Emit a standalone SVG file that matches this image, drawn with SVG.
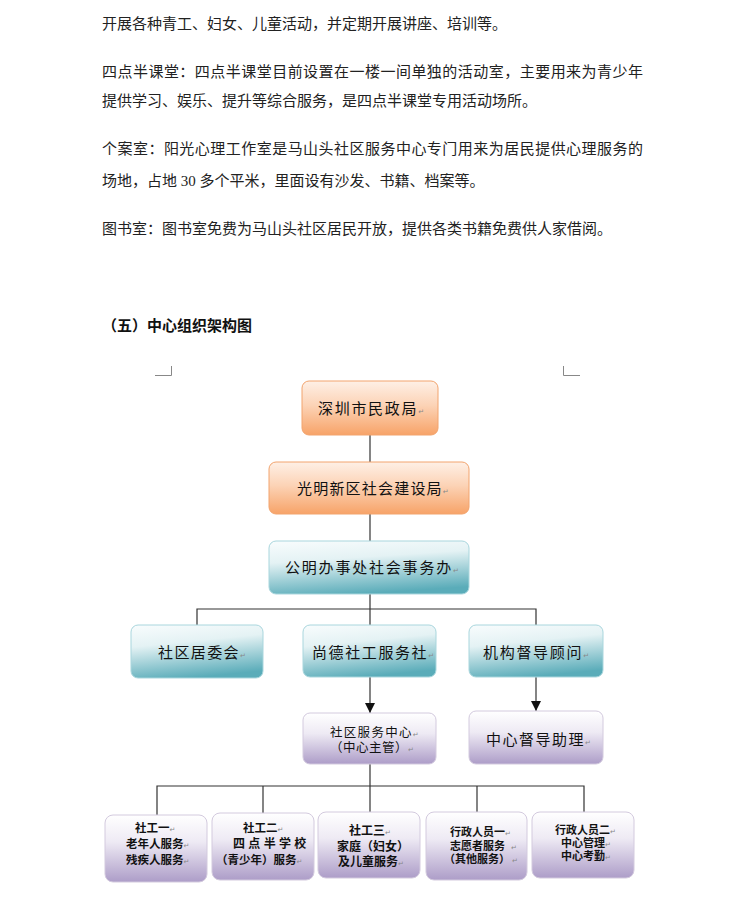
<svg xmlns="http://www.w3.org/2000/svg" width="744" height="900" viewBox="0 0 744 900">
<style>
.body{font-family:"Liberation Serif","Noto Sans CJK SC",serif;font-size:15px;fill:#222}
.head{font-family:"Liberation Sans","Noto Sans CJK SC",sans-serif;font-size:15px;font-weight:700;fill:#111}
.bx{font-family:"Liberation Serif","Noto Sans CJK SC",serif;font-size:15px;fill:#111}
.sm{font-family:"Liberation Serif","Noto Sans CJK SC",serif;font-size:12.5px;fill:#111}
.bt{font-family:"Liberation Sans","Noto Sans CJK SC",sans-serif;font-weight:700;fill:#111}
.rm{font-family:"DejaVu Sans",sans-serif;font-size:7px;fill:#888;font-weight:400;letter-spacing:0}
.or{fill:url(#gOr);stroke:#f2a46e;stroke-width:1}
.te{fill:url(#gTe);stroke:#a9d6dd;stroke-width:1}
.pu{fill:url(#gPu);stroke:#d3cade;stroke-width:1}
.ln{stroke:#333;stroke-width:1.2;fill:none}
.mk{stroke:#888;stroke-width:1;fill:none}
</style>
<defs>
<linearGradient id="gOr" x1="0" y1="0" x2="0" y2="1">
<stop offset="0" stop-color="#fef0e6"/>
<stop offset="0.45" stop-color="#fcd3b6"/>
<stop offset="1" stop-color="#f7a368"/>
</linearGradient>
<linearGradient id="gTe" x1="0.2" y1="0" x2="0.45" y2="1">
<stop offset="0" stop-color="#f6fbfc"/>
<stop offset="0.35" stop-color="#e4f2f4"/>
<stop offset="1" stop-color="#5aacb9"/>
</linearGradient>
<linearGradient id="gPu" x1="0" y1="0" x2="0" y2="1">
<stop offset="0" stop-color="#ffffff"/>
<stop offset="0.4" stop-color="#eeeaf4"/>
<stop offset="1" stop-color="#ad9dc8"/>
</linearGradient>
<marker id="arr" viewBox="0 0 10 10" refX="10" refY="5" markerWidth="10" markerHeight="10" markerUnits="userSpaceOnUse" orient="auto">
<path d="M0,0 L10,5 L0,10 z" fill="#111"/>
</marker>
</defs>

<g id="body-text">
<text class="body" x="102" y="28.5">开展各种青工、妇女、儿童活动，并定期开展讲座、培训等。</text>
<text class="body" x="102" y="76.5" textLength="541" lengthAdjust="spacing">四点半课堂：四点半课堂目前设置在一楼一间单独的活动室，主要用来为青少年</text>
<text class="body" x="102" y="105.5">提供学习、娱乐、提升等综合服务，是四点半课堂专用活动场所。</text>
<text class="body" x="102" y="153.5" textLength="541" lengthAdjust="spacing">个案室：阳光心理工作室是马山头社区服务中心专门用来为居民提供心理服务的</text>
<text class="body" x="102" y="185.5">场地，占地 30 多个平米，里面设有沙发、书籍、档案等。</text>
<text class="body" x="102" y="233.5">图书室：图书室免费为马山头社区居民开放，提供各类书籍免费供人家借阅。</text>
<text class="head" x="102" y="330.5">（五）中心组织架构图</text>
</g>

<g id="corner-marks">
<path class="mk" d="M155,375.5 H171.5 V366"/>
<path class="mk" d="M563.5,366 V375.5 H580"/>
</g>

<g id="connectors">
<line class="ln" x1="370" y1="435" x2="370" y2="462"/>
<line class="ln" x1="370" y1="514" x2="370" y2="541"/>
<line class="ln" x1="370" y1="594" x2="370" y2="625"/>
<path class="ln" d="M197,625 V609 H536 V625"/>
<line class="ln" x1="370" y1="677" x2="370" y2="713" marker-end="url(#arr)"/>
<line class="ln" x1="536" y1="677" x2="536" y2="711" marker-end="url(#arr)"/>
<line class="ln" x1="370" y1="764" x2="370" y2="812"/>
<path class="ln" d="M157,815 V786 H584 V812"/>
<line class="ln" x1="263" y1="786" x2="263" y2="813"/>
<line class="ln" x1="477" y1="786" x2="477" y2="812"/>
</g>

<g id="n-shenzhen">
<rect class="or" x="302" y="381" width="136" height="54" rx="7"/>
<text class="bx" x="318" y="413.5" style="letter-spacing:1.7px">深圳市民政局<tspan class="rm">↵</tspan></text>
</g>
<g id="n-guangming">
<rect class="or" x="269" y="462" width="200" height="52" rx="7"/>
<text class="bx" x="297" y="493.5" style="letter-spacing:1.2px">光明新区社会建设局<tspan class="rm">↵</tspan></text>
</g>
<g id="n-gongming">
<rect class="te" x="269" y="541" width="200" height="53" rx="7"/>
<text class="bx" x="285" y="572.5" style="letter-spacing:1.8px">公明办事处社会事务办<tspan class="rm">↵</tspan></text>
</g>
<g id="n-juweihui">
<rect class="te" x="131" y="625" width="132" height="53" rx="7"/>
<text class="bx" x="158" y="657.5" style="letter-spacing:1.4px">社区居委会<tspan class="rm">↵</tspan></text>
</g>
<g id="n-shangde">
<rect class="te" x="303" y="625" width="133" height="52" rx="7"/>
<text class="bx" x="312" y="658" style="letter-spacing:1.6px">尚德社工服务社<tspan class="rm">↵</tspan></text>
</g>
<g id="n-dudao">
<rect class="te" x="469" y="625" width="134" height="52" rx="7"/>
<text class="bx" x="483" y="658" style="letter-spacing:1.7px">机构督导顾问<tspan class="rm">↵</tspan></text>
</g>
<g id="n-center">
<rect class="pu" x="303" y="713" width="133" height="51" rx="7"/>
<text class="sm" x="330" y="736.5" style="letter-spacing:1.3px">社区服务中心<tspan class="rm">↵</tspan></text>
<text class="sm" x="330" y="751.5" style="letter-spacing:0.5px">（中心主管）<tspan class="rm">↵</tspan></text>
</g>
<g id="n-zhuli">
<rect class="pu" x="469" y="711" width="134" height="53" rx="7"/>
<text class="bx" x="486" y="744.5" style="letter-spacing:1.5px">中心督导助理<tspan class="rm">↵</tspan></text>
</g>

<g id="n-sg1">
<rect class="pu" x="105" y="815" width="102" height="67" rx="8"/>
<text class="bt" font-size="11.5" x="135" y="831.5">社工一<tspan class="rm">↵</tspan></text>
<text class="bt" font-size="11.5" x="126" y="847.5">老年人服务<tspan class="rm">↵</tspan></text>
<text class="bt" font-size="11.5" x="126" y="863.5">残疾人服务<tspan class="rm">↵</tspan></text>
</g>
<g id="n-sg2">
<rect class="pu" x="212" y="813" width="102" height="67" rx="8"/>
<text class="bt" font-size="11.5" x="243" y="831.5">社工二<tspan class="rm">↵</tspan></text>
<text class="bt" font-size="12" x="233" y="847.5">四 点 半 学 校</text>
<text class="bt" font-size="11.5" x="216" y="864">（青少年）服务<tspan class="rm">↵</tspan></text>
</g>
<g id="n-sg3">
<rect class="pu" x="318" y="812" width="102" height="66" rx="8"/>
<text class="bt" font-size="12" x="349" y="835">社工三<tspan class="rm">↵</tspan></text>
<text class="bt" font-size="12" x="337" y="850.5">家庭（妇女）</text>
<text class="bt" font-size="12" x="338" y="865.5">及儿童服务<tspan class="rm">↵</tspan></text>
</g>
<g id="n-xz1">
<rect class="pu" x="426" y="812" width="101" height="68" rx="8"/>
<text class="bt" font-size="11" x="450" y="836">行政人员一<tspan class="rm">↵</tspan></text>
<text class="bt" font-size="11" x="450" y="849.5">志愿者服务 <tspan class="rm" dx="3">↵</tspan></text>
<text class="bt" font-size="11" x="444" y="863">（其他服务）<tspan class="rm" dx="2">↵</tspan></text>
</g>
<g id="n-xz2">
<rect class="pu" x="532" y="812" width="102" height="66" rx="8"/>
<text class="bt" font-size="11" x="555" y="834">行政人员二<tspan class="rm">↵</tspan></text>
<text class="bt" font-size="11" x="561" y="847">中心管理<tspan class="rm">↵</tspan></text>
<text class="bt" font-size="11" x="561" y="860">中心考勤<tspan class="rm">↵</tspan></text>
</g>
</svg>
